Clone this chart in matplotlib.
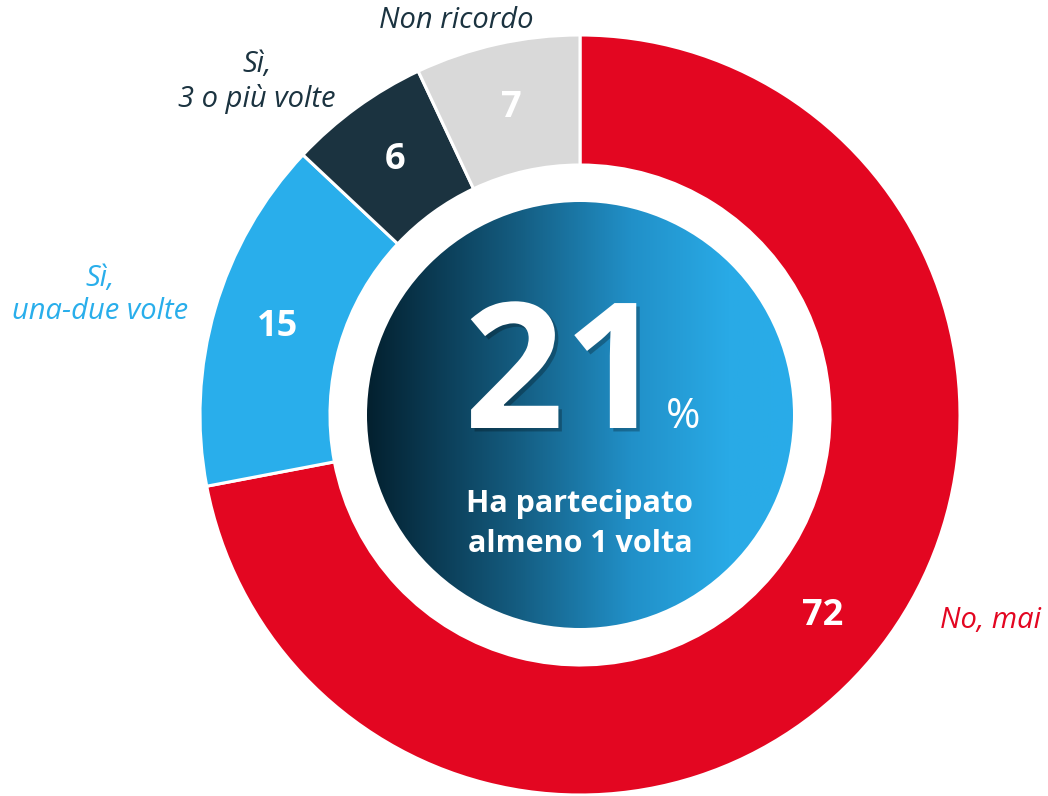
import numpy as np
import matplotlib
matplotlib.use("Agg")
import matplotlib.pyplot as plt
from matplotlib.patches import Circle
from matplotlib.colors import LinearSegmentedColormap
import matplotlib.patheffects as pe

# ---- data ----
categories = ["No, mai", "Sì,\nuna-due volte", "Sì,\n3 o più volte", "Non ricordo"]
values = [72, 15, 6, 7]
colors = ["#E30621", "#29AEEB", "#1B3340", "#D9D9D9"]
value_colors = ["white", "white", "white", "white"]
label_colors = ["#E30621", "#29AEEB", "#1B3340", "#1B3340"]
headline_value = 21
headline_text = "Ha partecipato\nalmeno 1 volta"

W, H = 1048, 796
fig = plt.figure(figsize=(W / 100, H / 100), dpi=100)
ax = fig.add_axes([0, 0, 1, 1])
ax.set_xlim(0, W)
ax.set_ylim(0, H)
ax.set_aspect("equal")
ax.axis("off")

cx, cy = 580, H - 415
R_out, R_in = 380, 250
wedges, _ = ax.pie(values, colors=colors, startangle=90, counterclock=False,
                   center=(cx, cy), radius=R_out, frame=True,
                   wedgeprops=dict(width=R_out - R_in, edgecolor="white", linewidth=2.2))
ax.set_xlim(0, W)
ax.set_ylim(0, H)
ax.axis("off")

font = "Open Sans"
r_mid = (R_out + R_in) / 2
for w, v, c in zip(wedges, values, value_colors):
    ang = np.deg2rad((w.theta1 + w.theta2) / 2)
    ax.text(cx + r_mid * np.cos(ang), cy + r_mid * np.sin(ang), str(v),
            ha="center", va="center", color=c, fontsize=26, fontweight="bold",
            family=font)

# outer category labels
label_pos = [(990, H - 620), (100, H - 295), (257, H - 82), (456, H - 20)]
for (x, y), t, c in zip(label_pos, categories, label_colors):
    ax.text(x, y, t, ha="center", va="center", color=c, fontsize=21,
            style="italic", family=font, linespacing=1.2)

# gradient centre circle
rc = 213
grad_cmap = LinearSegmentedColormap.from_list(
    "g", [(0.0, "#03202F"), (0.35, "#145C80"), (0.62, "#2190C8"), (0.85, "#29AAE6"), (1.0, "#29ACE9")])
grad = np.tile(np.linspace(0, 1, 512), (2, 1))
im = ax.imshow(grad, cmap=grad_cmap, extent=(cx - rc, cx + rc, cy - rc, cy + rc),
               origin="lower", aspect="auto", zorder=3, interpolation="bilinear")
clip = Circle((cx, cy), rc, transform=ax.transData, facecolor="none", edgecolor="none")
ax.add_patch(clip)
im.set_clip_path(clip)

big = ax.text(564, H - 428, str(headline_value), ha="center", va="baseline", color="white",
              fontsize=126, fontweight="bold", family=font, zorder=5, path_effects=[
                  pe.SimplePatchShadow(offset=(2.5, -2.5), shadow_rgbFace="black", alpha=0.25),
                  pe.Normal()])
fig.canvas.draw()
bb = big.get_window_extent(renderer=fig.canvas.get_renderer())
x_right = ax.transData.inverted().transform((bb.x1, bb.y0))[0]
ax.text(x_right + 2, H - 428, "%", ha="left", va="baseline", color="white",
        fontsize=30, family=font, zorder=5)
ax.text(cx, H - 524, headline_text, ha="center", va="center", color="white",
        fontsize=22, fontweight="bold", family=font, zorder=5, linespacing=1.45)

fig.savefig("out.png", dpi=100, facecolor="white")
